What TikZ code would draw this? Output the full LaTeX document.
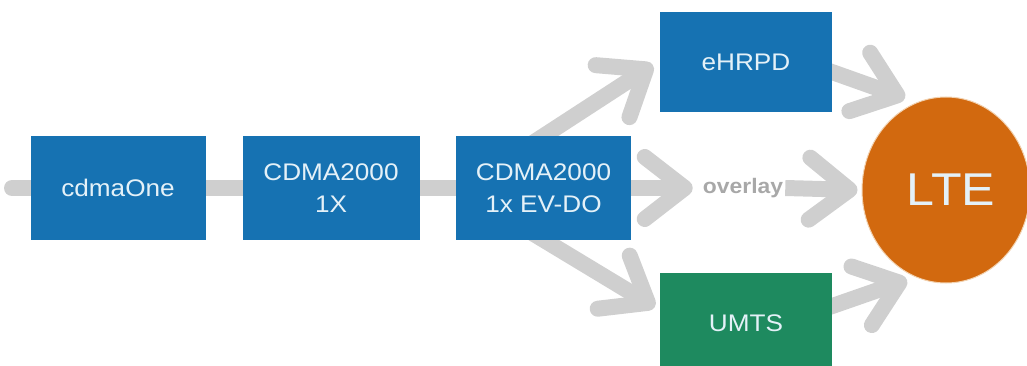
\documentclass[tikz,border=0pt]{standalone}
\usepackage{fontspec}
\setmainfont{Liberation Sans}[FakeStretch=1.09]
\usetikzlibrary{arrows.meta,shapes.geometric,backgrounds,calc}
\definecolor{boxblue}{HTML}{1672B2}
\definecolor{umtsgreen}{HTML}{1E8A5F}
\definecolor{lteorange}{HTML}{D2690F}
\definecolor{arrowgray}{HTML}{CFCFCF}
\definecolor{boxtext}{HTML}{E4F1F8}
\definecolor{overlaygray}{HTML}{A8A8A8}
\definecolor{lteedge}{HTML}{F2D2B0}
\begin{document}
\begin{tikzpicture}[x=1pt,y=-1pt,
  box/.style={rectangle, fill=boxblue, text=boxtext, minimum width=175pt,
    minimum height=103pt, align=center, inner sep=0pt,
    font=\fontsize{24}{32}\selectfont},
  shaft/.style={draw=arrowgray, line width=16pt},
  arr/.style={shaft, -{Straight Barb[round,length=40pt,width=62pt]}},
]
\useasboundingbox (0,0) rectangle (1027,366);
\node[box] (one) at (118,188) {cdmaOne};
\node[box, minimum width=177pt] (onex) at (331,188) {CDMA2000\\1X};
\node[box] (evdo) at (543.5,188) {CDMA2000\\1x EV-DO};
\node[box, minimum width=172pt, minimum height=100pt] (ehrpd) at (746,62) {eHRPD};
\node[box, fill=umtsgreen, minimum width=172pt, minimum height=100pt] (umts) at (746,323) {UMTS};
\node[ellipse, fill=lteorange, draw=lteedge, line width=1pt, minimum width=168pt, minimum height=186pt,
  text=boxtext, inner sep=0pt, font=\fontsize{46}{50}\selectfont] (lte) at (946,190) {\kern10pt LTE};
\node[text=overlaygray, inner sep=2pt, font=\bfseries\fontsize{21}{24}\selectfont] (overlay) at (743,188) {overlay};
\coordinate (start) at (12,188);
\begin{scope}[on background layer]
  \draw[shaft, line cap=round] (start) -- (evdo.center);
  \draw[arr] (evdo.east) -- ($(overlay.west)+(-8,0)$);
  \draw[arr] (overlay.east) -- ($(lte.west)+(-4,0)$);
  \draw[arr] ($(evdo.north)+(-25,16)$) -- ($(ehrpd.west)+(-7,3)$);
  \draw[arr] ($(evdo.south)+(-25,-15)$) -- ($(umts.west)+(-5,-16)$);
  \draw[arr] ($(ehrpd.east)+(-20,3)$) -- ($(lte.center)+(-41,-92)$);
  \draw[arr] ($(umts.east)+(-20,-10)$) -- ($(lte.center)+(-39,90)$);
\end{scope}
\end{tikzpicture}
\end{document}
